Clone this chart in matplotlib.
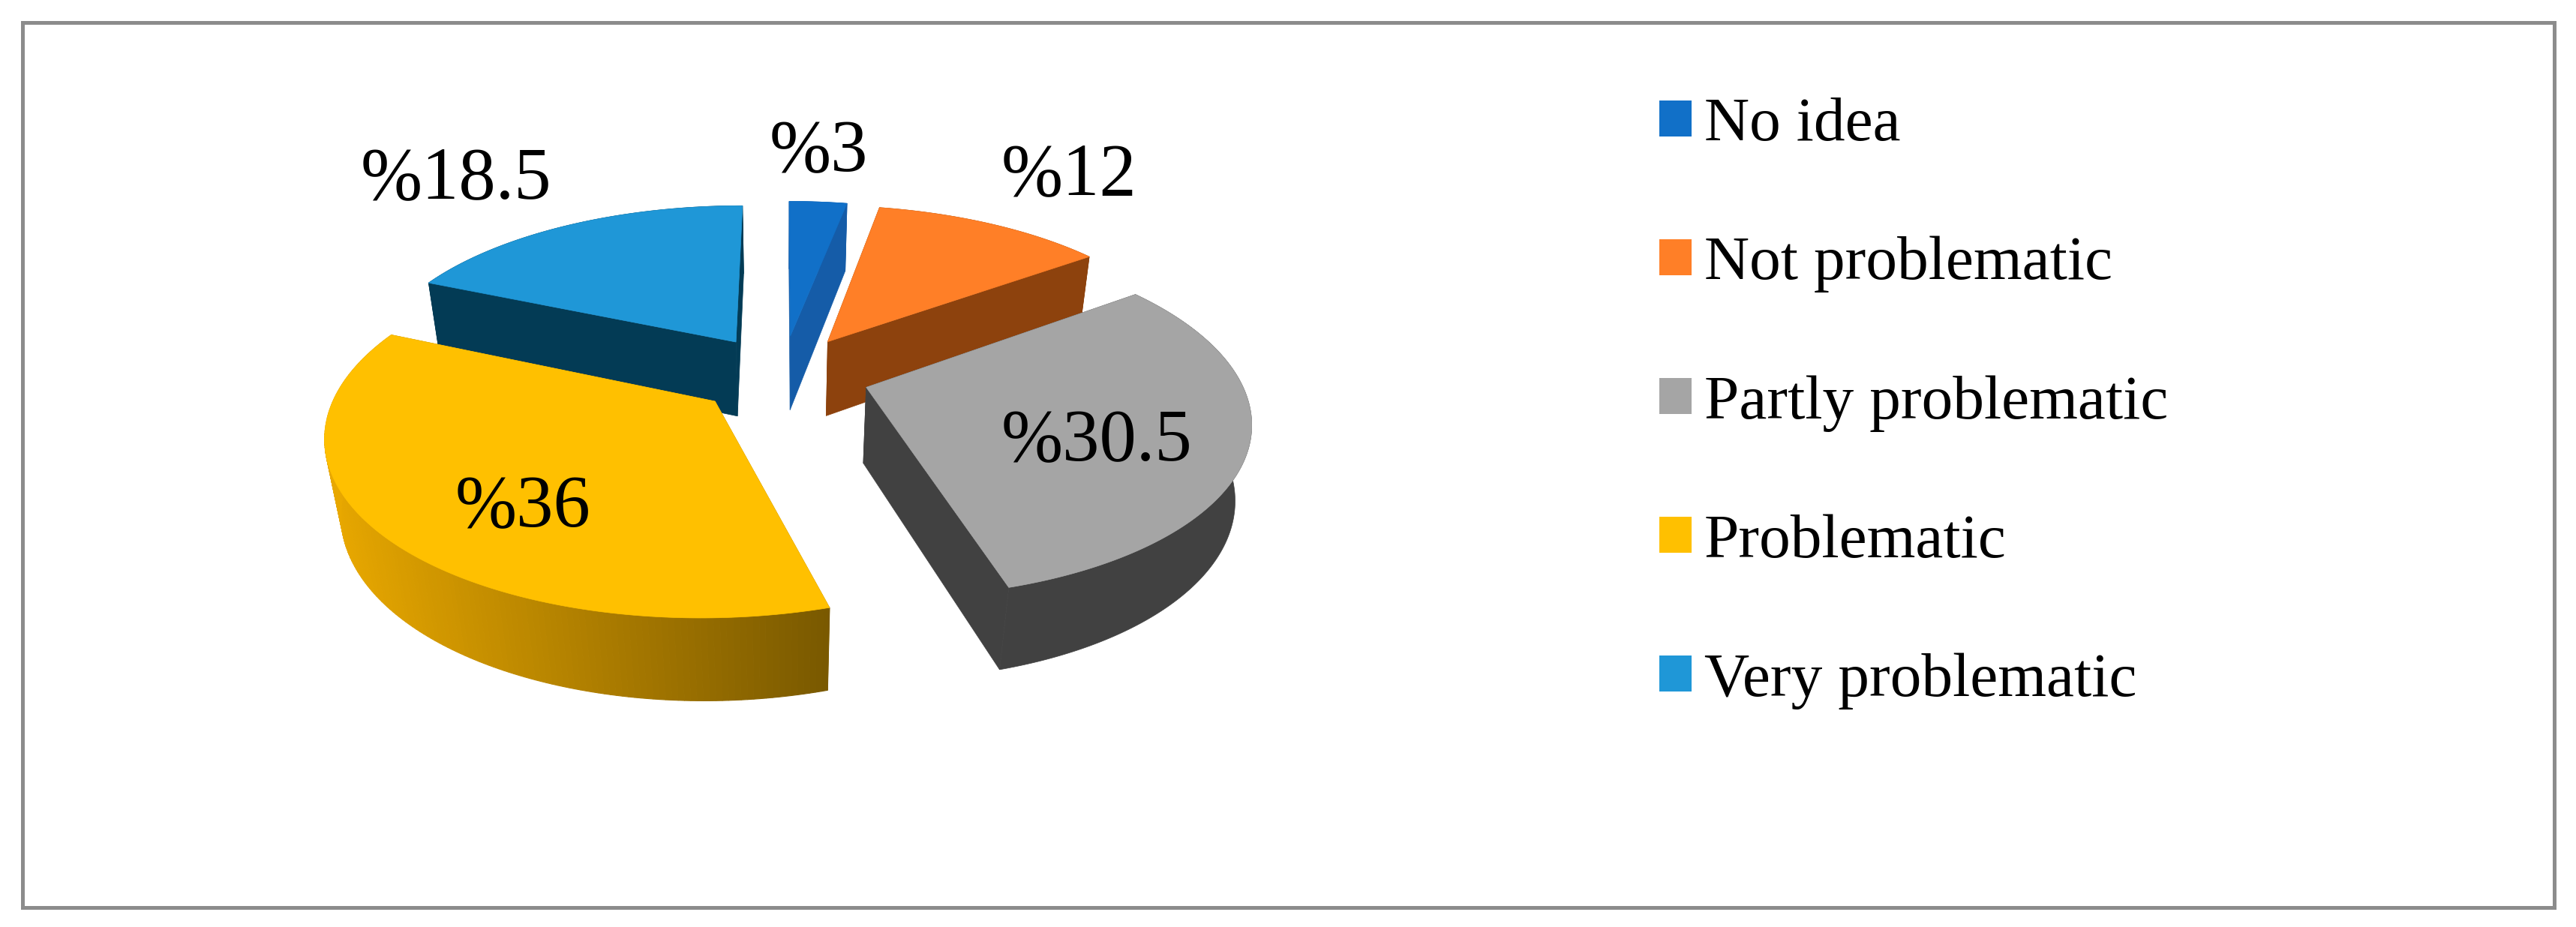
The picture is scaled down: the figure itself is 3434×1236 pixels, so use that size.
import numpy as np
import matplotlib
matplotlib.use("Agg")
import matplotlib.pyplot as plt
from matplotlib.patches import Polygon, Patch, Rectangle
from matplotlib.colors import to_rgb
from matplotlib.transforms import IdentityTransform

categories = ["No idea", "Not problematic", "Partly problematic", "Problematic", "Very problematic"]
values = [3, 12, 30.5, 36, 18.5]
top_colors = ["#1170c8", "#ff7f27", "#a5a5a5", "#ffc000", "#1f97d7"]
side_colors = ["#155ca8", "#8d420d", "#414141", "#a87c00", "#033b55"]

W, H = 3434, 1236
plt.rcParams["font.family"] = ["Liberation Serif", "DejaVu Serif"]
fig = plt.figure(figsize=(W / 100, H / 100), dpi=100, facecolor="white")
ax = fig.add_axes([0, 0, 1, 1])
ax.set_xlim(0, W)
ax.set_ylim(H, 0)
ax.axis("off")

ax.add_patch(Rectangle((29.5, 29.5), 3375, 1180, fill=False, ec="#8c8c8c", lw=3.6))

# projection of the exploded pie
CX, CY = 1043, 499
A, B, DEPTH = 496, 226, 104
PERSP, PERSP_Z, EXPLODE = 0.17, 0.035, 0.235


def project(X, Y, Z):
    w = 1 + PERSP * Y + PERSP_Z * Z
    return np.column_stack([CX + A * X / w, CY + (-B * Y + DEPTH * Z) / w])


def gradient_color(x):
    t = np.clip((x - 433) / (1098 - 433), 0, 1)
    return tuple((1 - t) * np.array(to_rgb("#eaa900")) + t * np.array(to_rgb("#7a5900")))


edges = np.cumsum([0] + values) / sum(values) * 2 * np.pi
draw_order = [4, 0, 1, 3, 2]
for i in draw_order:
    a0, a1 = edges[i], edges[i + 1]
    mid = (a0 + a1) / 2
    ox, oy = EXPLODE * np.sin(mid), EXPLODE * np.cos(mid)
    th = np.linspace(a0, a1, 160)
    X = ox + np.sin(th)
    Y = oy + np.cos(th)
    top_rim = project(X, Y, 0)
    bot_rim = project(X, Y, 1)
    tip_t = project(np.array([ox]), np.array([oy]), 0)
    tip_b = project(np.array([ox]), np.array([oy]), 1)
    # cut faces
    for end_t, end_b in ((top_rim[0], bot_rim[0]), (top_rim[-1], bot_rim[-1])):
        ax.add_patch(Polygon(np.vstack([tip_t, [end_t], [end_b], tip_b]),
                             fc=side_colors[i], ec=side_colors[i], lw=0.5))
    # outer wall
    if categories[i] == "Problematic":
        for k in range(len(th) - 1):
            quad = np.vstack([top_rim[k:k + 2], bot_rim[k:k + 2][::-1]])
            c = gradient_color(quad[:, 0].mean())
            ax.add_patch(Polygon(quad, fc=c, ec=c, lw=0.8))
    else:
        ax.add_patch(Polygon(np.vstack([top_rim, bot_rim[::-1]]),
                             fc=side_colors[i], ec=side_colors[i], lw=0.5))
    # top surface
    ax.add_patch(Polygon(np.vstack([tip_t, top_rim]), fc=top_colors[i], ec=top_colors[i], lw=0.5))

label_positions = [(1091, 228), (1425, 259), (1462, 614), (697, 702), (608, 264)]
for v, (lx, ly) in zip(values, label_positions):
    ax.text(lx, ly, f"%{v:g}", fontsize=71, ha="center", va="baseline", color="black")

handles = [Patch(fc=c, ec="none") for c in top_colors]
leg = ax.legend(handles, categories, loc="upper left",
                bbox_to_anchor=(2212, H - 130), bbox_transform=IdentityTransform(),
                frameon=False, fontsize=60, handlelength=0.52, handleheight=0.5,
                handletextpad=0.2, labelspacing=1.314, borderpad=0, borderaxespad=0)
for t in leg.get_texts():
    t.set_color("black")

fig.savefig("out.png", dpi=100, facecolor="white")
